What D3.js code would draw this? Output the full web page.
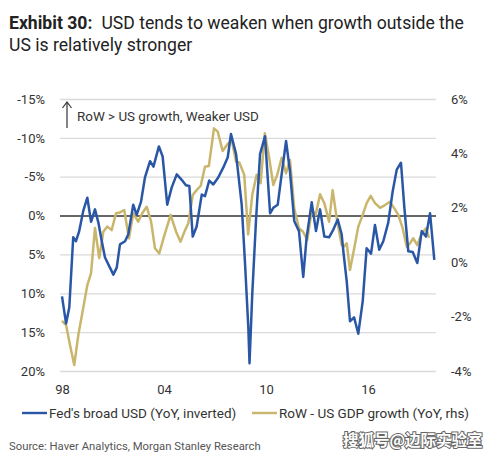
<!DOCTYPE html>
<html><head><meta charset="utf-8">
<script src="https://cdn.jsdelivr.net/npm/d3@7/dist/d3.min.js"></script>
<style>
body{margin:0;background:#fff;}
svg{display:block;font-family:Roboto, "Noto Sans", Arial, sans-serif;}
</style></head>
<body><div id="chart"></div>
<script>
// Fed's broad USD (YoY %, inverted axis)
const usdDates = [1998.0,1998.24,1998.43,1998.66,1998.82,1999.0,1999.25,1999.49,1999.71,1999.94,2000.14,2000.34,2000.53,2000.82,2001.02,2001.22,2001.41,2001.71,2001.9,2002.19,2002.39,2002.65,2002.88,2003.18,2003.38,2003.7,2003.92,2004.19,2004.45,2004.75,2005.04,2005.29,2005.49,2005.69,2005.92,2006.22,2006.41,2006.66,2006.9,2007.19,2007.49,2007.75,2007.94,2008.24,2008.57,2008.76,2008.96,2009.03,2009.19,2009.41,2009.65,2009.94,2010.24,2010.43,2010.69,2010.92,2011.18,2011.41,2011.66,2011.94,2012.19,2012.39,2012.69,2012.94,2013.18,2013.43,2013.71,2013.96,2014.22,2014.45,2014.55,2014.75,2014.94,2015.18,2015.43,2015.69,2015.92,2016.18,2016.41,2016.66,2016.9,2017.19,2017.45,2017.69,2017.94,2018.14,2018.37,2018.63,2018.9,2019.16,2019.41,2019.65,2019.9];
const usdValues = [10.4,13.9,11.8,2.8,3.3,2.1,-0.6,-2.3,0.8,-0.8,0.9,3.3,5.4,6.7,7.6,6.7,3.7,3.3,2.4,-1.4,-0.1,-1.8,-4.9,-7.0,-6.3,-8.9,-7.6,-1.4,-3.6,-5.3,-4.6,-3.9,-3.8,2.7,1.4,-2.7,-2.5,-4.5,-4.0,-4.9,-6.2,-7.5,-10.5,-7.9,-1.4,5.9,14.4,19.0,10.2,0.7,-7.9,-10.2,-0.3,-1.0,-1.4,-5.3,-9.6,-5.7,0.7,2.0,7.9,2.8,-1.7,2.0,-0.8,2.7,2.8,1.8,0.5,2.4,4.6,8.5,13.6,13.1,15.2,11.0,4.2,4.9,1.2,4.4,3.3,0.9,-3.1,-5.9,-6.8,-1.0,4.6,4.7,6.1,2.0,2.7,-0.3,5.7];

// RoW - US GDP growth (YoY %, rhs)
const gdpDates = [1998.0,1998.24,1998.47,1998.72,1998.96,1999.25,1999.49,1999.71,1999.94,2000.19,2000.43,2000.66,2000.92,2001.18,2001.41,2001.66,2001.94,2002.19,2002.48,2002.72,2002.98,2003.24,2003.47,2003.72,2004.0,2004.39,2004.71,2004.97,2005.24,2005.43,2005.69,2005.92,2006.16,2006.41,2006.64,2006.94,2007.16,2007.45,2007.72,2007.98,2008.24,2008.43,2008.72,2008.95,2009.19,2009.45,2009.68,2009.93,2010.16,2010.43,2010.66,2010.92,2011.18,2011.41,2011.66,2011.94,2012.18,2012.43,2012.69,2012.92,2013.18,2013.43,2013.71,2013.92,2014.16,2014.45,2014.58,2014.75,2014.94,2015.19,2015.43,2015.69,2015.92,2016.16,2016.41,2016.71,2017.0,2017.29,2017.55,2017.78,2018.04,2018.28,2018.47,2018.66,2018.9,2019.16,2019.41,2019.59];
const gdpValues = [-2.16,-2.31,-3.04,-3.78,-2.68,-1.68,-0.84,-0.40,1.26,0.15,1.12,1.31,1.18,1.80,1.83,1.92,0.88,1.80,1.49,1.80,2.04,1.49,0.51,0.32,0.94,1.74,1.12,0.75,1.18,1.43,2.47,2.65,2.81,3.51,3.54,4.92,4.80,4.09,4.33,4.49,3.69,3.67,3.21,1.02,2.47,3.21,2.90,4.74,3.94,2.84,3.21,3.84,3.27,3.76,1.98,1.25,1.12,0.82,1.92,1.74,2.50,2.17,1.49,2.65,1.61,0.63,0.57,0.69,-0.29,0.51,1.31,1.74,2.17,2.44,2.17,2.00,2.10,2.22,1.98,1.74,1.25,0.57,0.69,0.88,0.63,1.06,1.25,0.89];

const leftTicks = [-15,-10,-5,0,5,10,15,20];
const rightTicks = [6,4,2,0,-2,-4];
const xTicks = [1998,2004,2010,2016];
const xTickLabels = ["98","04","10","16"];
const seriesNames = ["Fed's broad USD (YoY, inverted)","RoW - US GDP growth (YoY, rhs)"];
const titleBold = "Exhibit 30:";
const titleLine1 = "USD tends to weaken when growth outside the";
const titleLine2 = "US is relatively stronger";
const annotation = "RoW > US growth, Weaker USD";
const sourceText = "Source: Haver Analytics, Morgan Stanley Research";
const watermark = "搜狐号@边际实验室";

const W = 496, H = 457;
const blue = "#2a56a6", gold = "#c9b66c", textCol = "#333";
const svg = d3.select("#chart").append("svg").attr("width", W).attr("height", H);

const plotL = 60, plotR = 436, plotT = 99, plotB = 371;
const x = d3.scaleLinear().domain([1998, 2020]).range([62, 436]);
const yL = d3.scaleLinear().domain([-15, 20]).range([plotT, plotB]);
const yR = d3.scaleLinear().domain([-4, 6]).range([plotB, plotT]);

// title
const t = svg.append("text").attr("x", 9).attr("y", 29).attr("fill", "#222").attr("font-size", 17.6);
t.append("tspan").attr("font-weight", "bold").text(titleBold);
t.append("tspan").attr("dx", 9).text(titleLine1);
svg.append("text").attr("x", 9).attr("y", 51).attr("fill", "#222").attr("font-size", 17.6).text(titleLine2);

// grid
const grid = svg.append("g").attr("transform", `translate(${plotL},0)`)
  .call(d3.axisLeft(yL).tickValues(leftTicks).tickSize(-(plotR - plotL)).tickFormat(""));
grid.select(".domain").remove();
grid.selectAll("line").attr("stroke", "#dadada").attr("stroke-width", 1.3);
grid.selectAll(".tick").filter(d => d === 0).select("line").attr("stroke", "#333").attr("stroke-width", 1.5);

// left axis
const la = svg.append("g").attr("transform", `translate(${plotL},0)`)
  .call(d3.axisLeft(yL).tickValues(leftTicks).tickSize(0).tickPadding(15).tickFormat(d => d + "%"));
la.select(".domain").remove();
la.selectAll("text").attr("font-size", 13).attr("fill", textCol).attr("font-family", "Roboto");

// right axis
const ra = svg.append("g").attr("transform", `translate(${plotR},0)`)
  .call(d3.axisRight(yR).tickValues(rightTicks).tickSize(0).tickPadding(15).tickFormat(d => d + "%"));
ra.select(".domain").remove();
ra.selectAll("text").attr("font-size", 13).attr("fill", textCol).attr("font-family", "Roboto");

// x axis
const xa = svg.append("g").attr("transform", `translate(0,${plotB})`)
  .call(d3.axisBottom(x).tickValues(xTicks).tickSize(0).tickPadding(14).tickFormat((d, i) => xTickLabels[i]));
xa.select(".domain").remove();
xa.selectAll("text").attr("font-size", 13).attr("fill", textCol).attr("font-family", "Roboto");

// lines
const gdpLine = d3.line().x((d, i) => x(gdpDates[i])).y(d => yR(d));
const usdLine = d3.line().x((d, i) => x(usdDates[i])).y(d => yL(d));
svg.append("path").datum(gdpValues).attr("d", gdpLine).attr("fill", "none")
  .attr("stroke", gold).attr("stroke-width", 2.5).attr("stroke-linejoin", "round");
svg.append("path").datum(usdValues).attr("d", usdLine).attr("fill", "none")
  .attr("stroke", blue).attr("stroke-width", 2.5).attr("stroke-linejoin", "round");

// annotation
svg.append("line").attr("x1", 67).attr("x2", 67).attr("y1", 128).attr("y2", 103)
  .attr("stroke", "#333").attr("stroke-width", 1.2);
svg.append("path").attr("d", "M62.5,108 L67,102 L71.5,108").attr("fill", "none").attr("stroke", "#333").attr("stroke-width", 1.2);
svg.append("text").attr("x", 77).attr("y", 121).attr("font-size", 13.4).attr("fill", textCol).text(annotation);

// legend
const lg = svg.append("g");
const legendItems = [
  {name: seriesNames[0], color: blue, x0: 22},
  {name: seriesNames[1], color: gold, x0: 252}
];
legendItems.forEach(it => {
  lg.append("line").attr("x1", it.x0).attr("x2", it.x0 + 25).attr("y1", 413).attr("y2", 413)
    .attr("stroke", it.color).attr("stroke-width", 2.4);
  lg.append("text").attr("x", it.x0 + 27).attr("y", 417.5).attr("font-size", 13.5).attr("fill", textCol).text(it.name);
});

// source
svg.append("text").attr("x", 9).attr("y", 450).attr("font-size", 11.3).attr("fill", "#555").text(sourceText);

// watermark
svg.append("text").attr("x", 343).attr("y", 446).attr("font-size", 15.5).attr("font-weight", "bold")
  .attr("font-family", "'Noto Sans CJK SC'").attr("fill", "#fff").attr("stroke", "#666").attr("stroke-width", 2)
  .attr("paint-order", "stroke").text(watermark);
</script></body></html>
